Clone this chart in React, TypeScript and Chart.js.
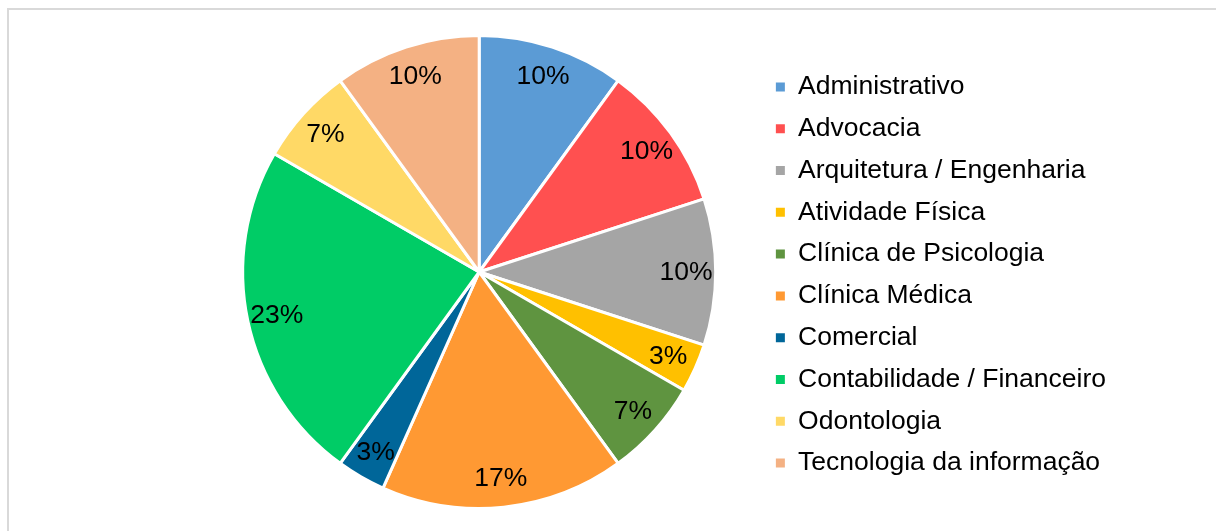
import React, { useEffect, useRef } from "react";
import { Chart, registerables } from "chart.js";

Chart.register(...registerables);

const categories = [
  "Administrativo",
  "Advocacia",
  "Arquitetura / Engenharia",
  "Atividade Física",
  "Clínica de Psicologia",
  "Clínica Médica",
  "Comercial",
  "Contabilidade / Financeiro",
  "Odontologia",
  "Tecnologia da informação",
];

const counts = [3, 3, 3, 1, 2, 5, 1, 7, 2, 3];

const colors = [
  "#5B9BD5",
  "#FF5050",
  "#A5A5A5",
  "#FFC000",
  "#5F9440",
  "#FF9933",
  "#006699",
  "#00CC66",
  "#FFD966",
  "#F4B183",
];

const FONT = "'Liberation Sans', Arial, sans-serif";

const pctLabels = {
  id: "pctLabels",
  afterDatasetsDraw(chart: any) {
    const ctx = chart.ctx;
    const meta = chart.getDatasetMeta(0);
    const data = chart.data.datasets[0].data as number[];
    const total = data.reduce((a, b) => a + b, 0);
    ctx.save();
    ctx.font = `26.5px ${FONT}`;
    ctx.fillStyle = "#000";
    ctx.textAlign = "center";
    ctx.textBaseline = "middle";
    meta.data.forEach((arc: any, i: number) => {
      const { x, y, startAngle, endAngle, outerRadius } = arc.getProps(
        ["x", "y", "startAngle", "endAngle", "outerRadius"],
        true
      );
      const mid = (startAngle + endAngle) / 2;
      const r = outerRadius * 0.875;
      const txt = Math.round((data[i] / total) * 100) + "%";
      ctx.fillText(txt, x + Math.cos(mid) * r, y + Math.sin(mid) * r + 1);
    });
    ctx.restore();
  },
};

export default function App() {
  const canvasRef = useRef<HTMLCanvasElement | null>(null);

  useEffect(() => {
    if (!canvasRef.current) return;
    const chart = new Chart(canvasRef.current, {
      type: "pie",
      data: {
        labels: categories,
        datasets: [
          {
            data: counts,
            backgroundColor: colors,
            borderColor: "#ffffff",
            borderWidth: 3,
            radius: 236.5,
          } as any,
        ],
      },
      options: {
        responsive: true,
        maintainAspectRatio: false,
        animation: false,
        layout: { padding: { left: 188.8, right: 100, top: 3, bottom: 0 } },
        plugins: {
          tooltip: { enabled: false },
          legend: {
            position: "right",
            align: "center",
            title: { display: true, text: " ", padding: 0, font: { size: 5 } },
            labels: {
              boxWidth: 9,
              boxHeight: 9,
              padding: 15.3,
              color: "#000",
              font: { size: 26.5, family: FONT },
              generateLabels: (c: any) => {
                const items = (Chart as any).overrides.pie.plugins.legend.labels.generateLabels(c);
                items.forEach((it: any) => {
                  it.lineWidth = 0;
                  it.strokeStyle = it.fillStyle;
                });
                return items;
              },
            },
          },
        },
      },
      plugins: [pctLabels],
    });
    return () => chart.destroy();
  }, []);

  return (
    <div
      style={{
        position: "fixed",
        left: 7,
        top: 8,
        width: 1209,
        height: 523,
        boxSizing: "border-box",
        borderTop: "2px solid #d9d9d9",
        borderLeft: "2px solid #d9d9d9",
        background: "#fff",
      }}
    >
      <div style={{ position: "relative", width: 1207, height: 521 }}>
        <canvas ref={canvasRef} />
      </div>
    </div>
  );
}
